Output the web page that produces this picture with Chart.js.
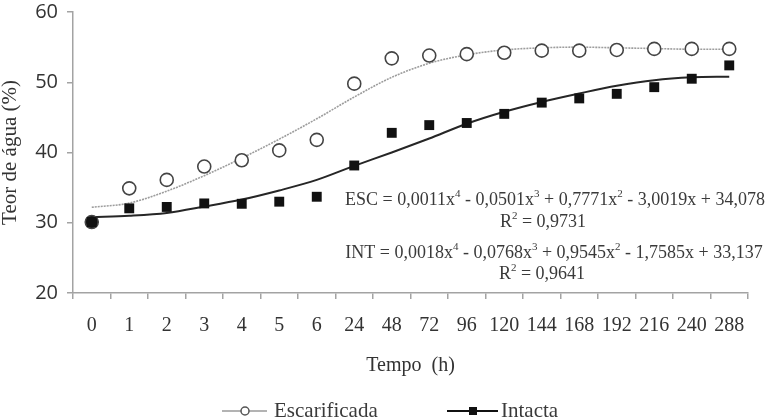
<!DOCTYPE html>
<html>
<head>
<meta charset="utf-8">
<script src="https://cdn.jsdelivr.net/npm/chart.js@4.4.1/dist/chart.umd.min.js"></script>
<style>
  html, body { margin: 0; background: #fff; }
  #wrap { width: 777px; height: 420px; }
</style>
</head>
<body>
<div id="wrap"><canvas id="grafico"></canvas></div>
<script>
// Tempo (h) -- categorias do eixo x
const horas = ['0', '1', '2', '3', '4', '5', '6', '24', '48', '72', '96', '120', '144', '168', '192', '216', '240', '288'];

// Teor de água (%) observado
const escarificada = [30.1, 34.9, 36.1, 38.0, 38.9, 40.3, 41.8, 49.8, 53.4, 53.8, 54.0, 54.2, 54.5, 54.5, 54.6, 54.75, 54.75, 54.75];
const intacta      = [30.1, 32.05, 32.25, 32.75, 32.7, 33.0, 33.7, 38.15, 42.8, 43.9, 44.2, 45.5, 47.1, 47.7, 48.35, 49.3, 50.5, 52.4];

// linhas de tendência
const tendEscarificada = [32.2, 32.8, 34.5, 36.7, 39.2, 41.9, 44.8, 47.9, 50.7, 52.7, 53.9, 54.6, 54.9, 55.0, 54.9, 54.8, 54.7, 54.7];
const tendIntacta      = [30.8, 31.0, 31.4, 32.3, 33.3, 34.6, 36.1, 38.1, 40.0, 42.0, 44.1, 45.8, 47.2, 48.4, 49.5, 50.3, 50.7, 50.8];

const yMin = 20, yMax = 60, yPasso = 10;

// equações (texto, sobrescrito?)
const eqEsc = [['ESC = 0,0011x'], ['4', 1], [' - 0,0501x'], ['3', 1], [' + 0,7771x'], ['2', 1], [' - 3,0019x + 34,078']];
const r2Esc = [['R'], ['2', 1], [' = 0,9731']];
const eqInt = [['INT = 0,0018x'], ['4', 1], [' - 0,0768x'], ['3', 1], [' + 0,9545x'], ['2', 1], [' - 1,7585x + 33,137']];
const r2Int = [['R'], ['2', 1], [' = 0,9641']];

const SERIF = '"Liberation Serif", "DejaVu Serif", serif';
const EIXO = '#a3a3a3';

const equacoes = {
  id: 'equacoes',
  afterDraw(chart) {
    const ctx = chart.ctx;
    const linhas = [
      { parts: eqEsc, cx: 555, y: 200 },
      { parts: r2Esc, cx: 543, y: 222 },
      { parts: eqInt, cx: 554, y: 253 },
      { parts: r2Int, cx: 542, y: 274 },
    ];
    const fNormal = '18px ' + SERIF, fSup = '11px ' + SERIF;
    ctx.save();
    ctx.fillStyle = '#3a3a3a';
    ctx.textBaseline = 'middle';
    ctx.textAlign = 'left';
    for (const l of linhas) {
      let total = 0;
      for (const [t, sup] of l.parts) { ctx.font = sup ? fSup : fNormal; total += ctx.measureText(t).width; }
      let x = l.cx - total / 2;
      for (const [t, sup] of l.parts) {
        ctx.font = sup ? fSup : fNormal;
        ctx.fillText(t, x, sup ? l.y - 6 : l.y);
        x += ctx.measureText(t).width;
      }
    }
    ctx.restore();
  }
};

const legenda = {
  id: 'legenda',
  afterDraw(chart) {
    const ctx = chart.ctx;
    const y = 411;
    ctx.save();
    // Escarificada
    ctx.strokeStyle = '#9a9a9a'; ctx.lineWidth = 1.5;
    ctx.beginPath(); ctx.moveTo(222, y); ctx.lineTo(267, y); ctx.stroke();
    ctx.fillStyle = '#fff'; ctx.strokeStyle = '#555';
    ctx.beginPath(); ctx.arc(245, y, 4, 0, Math.PI * 2); ctx.fill(); ctx.stroke();
    // Intacta
    ctx.strokeStyle = '#111'; ctx.lineWidth = 2;
    ctx.beginPath(); ctx.moveTo(447, y); ctx.lineTo(498, y); ctx.stroke();
    ctx.fillStyle = '#111'; ctx.fillRect(469, y - 4, 8, 8);
    ctx.fillStyle = '#3a3a3a';
    ctx.font = '21px ' + SERIF;
    ctx.textBaseline = 'middle';
    ctx.fillText(chart.data.datasets[0].label, 274, y);
    ctx.fillText(chart.data.datasets[1].label, 501, y);
    ctx.restore();
  }
};

new Chart(document.getElementById('grafico'), {
  type: 'line',
  data: {
    labels: horas,
    datasets: [
      {
        label: 'Escarificada', data: escarificada, showLine: false, order: 2,
        pointStyle: 'circle', pointRadius: 6.5, pointBorderWidth: 1.6,
        pointBorderColor: '#444',
        pointBackgroundColor: escarificada.map((_, i) => i === 0 ? '#111' : '#fff'),
      },
      {
        label: 'Intacta', data: intacta, showLine: false, order: 1,
        pointStyle: 'rect', pointRadius: 7, pointBorderWidth: 0,
        pointBorderColor: '#111', pointBackgroundColor: '#111',
      },
      {
        label: 'tend. Escarificada', data: tendEscarificada, order: 4,
        borderColor: '#9d9d9d', borderWidth: 1.6, borderDash: [2, 1],
        pointRadius: 0, tension: 0.4, cubicInterpolationMode: 'monotone',
      },
      {
        label: 'tend. Intacta', data: tendIntacta, order: 3,
        borderColor: '#262626', borderWidth: 2,
        pointRadius: 0, tension: 0.4, cubicInterpolationMode: 'monotone',
      },
    ],
  },
  options: {
    responsive: true,
    maintainAspectRatio: false,
    animation: false,
    layout: { padding: { top: 0, left: 0, right: 29, bottom: 30 } },
    plugins: { legend: { display: false }, tooltip: { enabled: false } },
    scales: {
      x: {
        offset: true,
        grid: { offset: true, drawOnChartArea: false, tickLength: 6, color: EIXO, lineWidth: 1.5 },
        border: { color: EIXO, width: 1.5 },
        ticks: { autoSkip: false, maxRotation: 0, padding: 15, color: '#333', font: { family: SERIF, size: 20 } },
        title: { display: true, text: 'Tempo  (h)', color: '#333', padding: 14, font: { family: SERIF, size: 20, lineHeight: 1 } },
        afterFit: (s) => { s.height = 97; },
      },
      y: {
        min: yMin, max: yMax,
        grid: { drawOnChartArea: false, tickLength: 6, color: EIXO, lineWidth: 1.5 },
        border: { color: EIXO, width: 1.5 },
        ticks: { stepSize: yPasso, padding: 9, color: '#333', font: { family: '"Open Sans", sans-serif', size: 20, lineHeight: 1.1 } },
        title: { display: true, text: 'Teor de água (%)', color: '#333', padding: 0, font: { family: SERIF, size: 21, lineHeight: 1 } },
        afterFit: (s) => { s.width = 73; s.paddingTop = 12; },
      },
    },
  },
  plugins: [equacoes, legenda],
});
</script>
</body>
</html>
